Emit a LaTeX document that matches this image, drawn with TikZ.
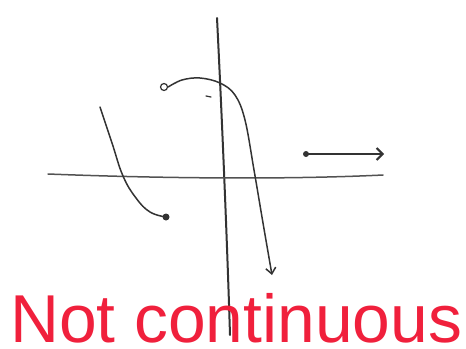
\documentclass[tikz,border=0pt]{standalone}
\usepackage{fontspec}
\setmainfont{Liberation Sans}
\usepackage{tikz}
\usetikzlibrary{arrows.meta, calc, positioning}
\definecolor{Pencil}  {HTML}{333333}
\definecolor{Marker}  {HTML}{F0203C}

\begin{document}
\begin{tikzpicture}[x=1bp, y=1bp,
    sketch/.style={Pencil, line width=1.5bp, line cap=round},
    hollow/.style={circle, draw=Pencil, line width=1.2bp, fill=white, inner sep=0pt, minimum size=7bp},
    solid/.style={circle, fill=Pencil, inner sep=0pt, minimum size=7bp}]
  \useasboundingbox (0,0) rectangle (466,348);
  % Axes, drawn by hand so a little crooked
  \coordinate (ytop) at (217,330);
  \coordinate (ybot) at (230,13);
  \draw[sketch, line width=2bp] (ytop) .. controls (222,230) and (227,110) .. (ybot);
  \coordinate (xleft) at (48,174);
  \coordinate (xright) at (383,173);
  \draw[sketch, Pencil!85] (xleft) .. controls (150,170) and (280,168) .. (xright);
  % Left piece, ends in a closed dot
  \node[solid] (leftend) at (166,131) {};
  \draw[sketch] plot[smooth, tension=0.7] coordinates {(100,241) (112,205) (123,172) (136,150) (150,136) (leftend.center)};
  % Middle piece, open dot on the left, runs off downwards
  \node[hollow] (midstart) at (164,261) {};
  \coordinate (midtip) at (272,73);
  \draw[sketch, -{Straight Barb[length=6bp, width=10bp]}] plot[smooth, tension=0.6] coordinates {(midstart.east) (182,268) (200,270) (220,265) (235,253) (245,228) (254,178) (263,125) (midtip)};
  \draw[sketch, line width=1.2bp] (206,252) -- (211,251);
  % Right piece, a ray
  \node[solid, minimum size=6bp] (raystart) at (306,194) {};
  \coordinate (raytip) at (384,194);
  \draw[sketch, line width=2bp, -{Straight Barb[length=6bp, width=12bp]}] (raystart.center) -- (raytip);
  % Caption
  \node[font=\fontsize{68}{68}\selectfont, text=Marker, anchor=base west, inner sep=0pt] (caption) at (10,6) {Not continuous};
\end{tikzpicture}
\end{document}
